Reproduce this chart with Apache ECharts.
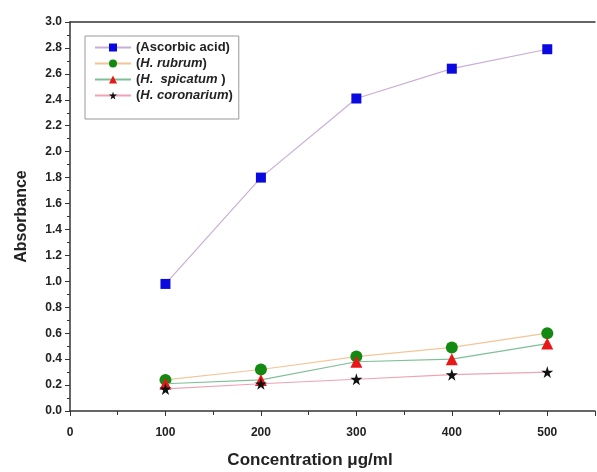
<!DOCTYPE html>
<html>
<head>
<meta charset="utf-8">
<script src="https://cdn.jsdelivr.net/npm/echarts@6/dist/echarts.min.js"></script>
<style>
  html, body { margin: 0; padding: 0; background: #fff; }
  #chart { width: 597px; height: 472px; }
</style>
</head>
<body>
<div id="chart"></div>
<script>
const concentrations = [100, 200, 300, 400, 500];
const ascorbicAcid = [0.98, 1.80, 2.41, 2.64, 2.79];
const hRubrum = [0.24, 0.32, 0.42, 0.49, 0.60];
const hSpicatum = [0.21, 0.24, 0.38, 0.40, 0.52];
const hCoronarium = [0.17, 0.21, 0.245, 0.28, 0.30];

const pairs = (ys) => concentrations.map((x, i) => [x, ys[i]]);

const chart = echarts.init(document.getElementById('chart'));

const fontFamily = 'Liberation Sans, Arial, sans-serif';

const option = {
  animation: false,
  textStyle: {fontFamily: fontFamily},
  grid: {left: 70, right: 2, top: 22, bottom: 61, outerBoundsMode: 'none', containLabel: false},
  legend: {
    left: 85,
    top: 36,
    orient: 'vertical',
    itemWidth: 36,
    itemHeight: 10,
    itemGap: 3,
    padding: [5, 6, 17, 9],
    borderColor: '#999',
    borderWidth: 1,
    textStyle: {fontSize: 13, fontWeight: 'bold', color: '#222'},
    formatter: function (name) {
      if (name.startsWith('(H.')) {
        return '{n|(}{it|' + name.slice(1, -1) + '}{n|)}';
      }
      return name;
    },
    data: ['(Ascorbic acid)', '(H. rubrum)', '(H.  spicatum )', '(H. coronarium)']
  },
  xAxis: [{
    type: 'value',
    min: 0,
    max: 550,
    interval: 100,
    name: 'Concentration \u03bcg/ml',
    nameLocation: 'middle',
    nameGap: 41,
    nameTextStyle: {fontSize: 17, fontWeight: 'bold', color: '#222', padding: [0, 45, 0, 0]},
    axisLine: {lineStyle: {color: '#333', width: 1.5}},
    axisTick: {show: true, length: 5, inside: false, lineStyle: {color: '#333'}},
    minorTick: {show: true, splitNumber: 2, length: 4, lineStyle: {color: '#333'}},
    axisLabel: {
      fontSize: 12, fontWeight: 'bold', color: '#222', margin: 16,
      formatter: v => (v % 100 === 0 && v <= 500) ? String(v) : ''
    },
    splitLine: {show: false}
  }, {
    type: 'value',
    position: 'top',
    min: 0,
    max: 550,
    axisLine: {show: true, lineStyle: {color: '#333', width: 1.5}},
    axisTick: {show: false},
    axisLabel: {show: false},
    splitLine: {show: false}
  }],
  yAxis: {
    type: 'value',
    min: 0,
    max: 3.0,
    interval: 0.2,
    name: 'Absorbance',
    nameLocation: 'middle',
    nameGap: 40,
    nameTextStyle: {fontSize: 16, fontWeight: 'bold', color: '#222'},
    axisLine: {show: true, lineStyle: {color: '#333', width: 1.5}},
    axisTick: {show: true, length: 5, lineStyle: {color: '#333'}},
    minorTick: {show: true, splitNumber: 2, length: 3, lineStyle: {color: '#333'}},
    axisLabel: {
      fontSize: 12, fontWeight: 'bold', color: '#222', margin: 8,
      formatter: v => v.toFixed(1)
    },
    splitLine: {show: false}
  },
  series: [{
    name: '(Ascorbic acid)',
    type: 'line',
    data: pairs(ascorbicAcid),
    symbol: 'rect',
    symbolSize: 10,
    itemStyle: {color: '#0a0ae0'},
    lineStyle: {color: '#c9aed6', width: 1.2},
    z: 4
  }, {
    name: '(H. rubrum)',
    type: 'line',
    data: pairs(hRubrum),
    symbol: 'circle',
    symbolSize: 12,
    itemStyle: {color: '#128a12'},
    lineStyle: {color: '#f3c698', width: 1.2},
    z: 3
  }, {
    name: '(H.  spicatum )',
    type: 'line',
    data: pairs(hSpicatum),
    symbol: 'triangle',
    symbolSize: 12,
    itemStyle: {color: '#e81818'},
    lineStyle: {color: '#7fbf98', width: 1.2},
    z: 4
  }, {
    name: '(H. coronarium)',
    type: 'line',
    data: pairs(hCoronarium),
    symbol: 'path://M50,0 L61,35 L98,35 L68,57 L79,91 L50,70 L21,91 L32,57 L2,35 L39,35 Z',
    symbolSize: 12,
    itemStyle: {color: '#111'},
    lineStyle: {color: '#eea3b3', width: 1.2},
    z: 5
  }]
};

option.legend.textStyle.rich = {
  it: {fontSize: 13, fontWeight: 'bold', fontStyle: 'italic', color: '#222'},
  n: {fontSize: 13, fontWeight: 'bold', color: '#222'}
};

chart.setOption(option);
</script>
</body>
</html>
